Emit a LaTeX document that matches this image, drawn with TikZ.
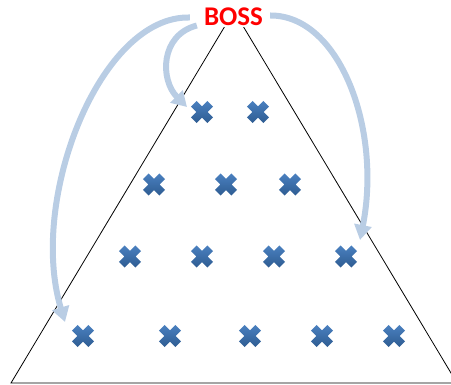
\documentclass[tikz,border=0pt]{standalone}
\usepackage{fontspec}
\usepackage{xcolor}
\usepackage{tikz}
\usetikzlibrary{arrows.meta}
\newfontfamily\bossfont{Carlito}
\definecolor{arrowblue}{HTML}{B9CDE4}
\definecolor{crosstop}{HTML}{4A80BF}
\definecolor{crossbot}{HTML}{2E5C92}

\begin{document}
\begin{tikzpicture}[x=1pt,y=1pt]
            \tikzset{boss/.style = {fill=white, inner sep=2pt, text=red, font=\bossfont\bfseries\fontsize{27}{27}\selectfont}}
            \tikzset{member/.style = {inner sep=0pt, minimum size=22pt}}
            \tikzset{order/.style = {arrowblue, line width=6pt, -{Triangle[width=17pt,length=15pt]}}}
            \tikzset{xmark/.pic = {
              \shade[top color=crosstop, bottom color=crossbot]
                (0,5.66) -- (-5.37,11.03) -- (-11.03,5.37) -- (-5.66,0) -- (-11.03,-5.37) -- (-5.37,-11.03)
                -- (0,-5.66) -- (5.37,-11.03) -- (11.03,-5.37) -- (5.66,0) -- (11.03,5.37) -- (5.37,11.03) -- cycle;
            }}
            \useasboundingbox (0,0) rectangle (451,385);

            % pyramid
            \draw[line width=0.8pt] (234,374) -- (11,2) -- (457,2) -- cycle;
            \node[boss] (boss) at (233.5,368.5) {BOSS};

            % members, row by row
            \foreach \x/\n in {202/1,258/2}
              {\node[member] (r1-\n) at (\x,273) {}; \pic at (r1-\n) {xmark};}
            \foreach \x/\n in {154/1,226/2,290/3}
              {\node[member] (r2-\n) at (\x,200.5) {}; \pic at (r2-\n) {xmark};}
            \foreach \x/\n in {130/1,202/2,274/3,346/4}
              {\node[member] (r3-\n) at (\x,128.5) {}; \pic at (r3-\n) {xmark};}
            \foreach \x/\n in {83/1,170/2,250/3,322/4,394/5}
              {\node[member] (r4-\n) at (\x,49) {}; \pic at (r4-\n) {xmark};}

            % orders
            \draw[order] ([xshift=-12pt,yshift=-1pt]boss.west) .. controls (100,370) and (28,185) .. ([xshift=-18pt,yshift=14pt]r4-1.center);
            \draw[order] ([xshift=-5pt,yshift=-9pt]boss.west) .. controls (160,350) and (160,305) .. ([xshift=-15pt,yshift=5pt]r1-1.center);
            \draw[order] ([xshift=5pt,yshift=1pt]boss.east) .. controls (340,370) and (382,255) .. ([xshift=14pt,yshift=16.5pt]r3-4.center);
          \end{tikzpicture}
\end{document}
